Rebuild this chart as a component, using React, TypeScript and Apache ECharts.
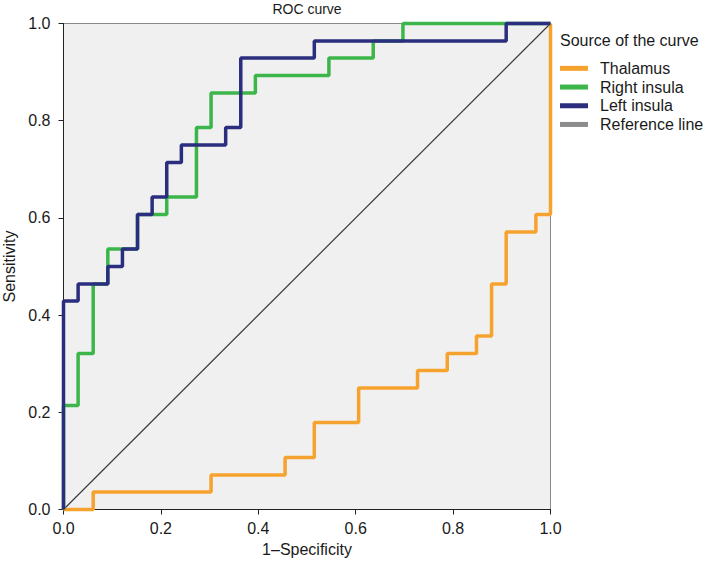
import React, { useEffect, useRef } from "react";
import * as echarts from "echarts";

// ROC points (1-Specificity, Sensitivity)
const thalamusFpr = [0, 0.061, 0.303, 0.455, 0.515, 0.606, 0.727, 0.788, 0.848, 0.879, 0.909, 0.97, 1, 1];
const thalamusTpr = [0, 0, 0.036, 0.071, 0.107, 0.179, 0.25, 0.286, 0.321, 0.357, 0.464, 0.571, 0.607, 1];

const rightInsulaFpr = [0, 0.03, 0.061, 0.091, 0.152, 0.212, 0.273, 0.303, 0.394, 0.545, 0.636, 0.697, 1];
const rightInsulaTpr = [0, 0.214, 0.321, 0.464, 0.536, 0.607, 0.643, 0.786, 0.857, 0.893, 0.929, 0.964, 1];

const leftInsulaFpr = [0, 0.03, 0.091, 0.121, 0.152, 0.182, 0.212, 0.242, 0.333, 0.364, 0.515, 0.909, 1];
const leftInsulaTpr = [0, 0.429, 0.464, 0.5, 0.536, 0.607, 0.643, 0.714, 0.75, 0.786, 0.929, 0.964, 1];

const referenceX = [0, 1];
const referenceY = [0, 1];

const seriesNames = ["Thalamus", "Right insula", "Left insula", "Reference line"];
const tickLabels = ["0.0", "0.2", "0.4", "0.6", "0.8", "1.0"];

const FONT = "'Liberation Sans', Arial, Helvetica, sans-serif";
const TEXT = "#1a1a1a";

const zip = (xs: number[], ys: number[]) => xs.map((x, i) => [x, ys[i]]);

export default function App() {
  const ref = useRef<HTMLDivElement>(null);

  useEffect(() => {
    if (!ref.current) return;
    const chart = echarts.init(ref.current, undefined, { renderer: "svg" });
    const fmt = (v: number) => tickLabels[Math.round(v * 5)] ?? v.toFixed(1);

    const option: any = {
      animation: false,
      textStyle: { fontFamily: FONT },
      grid: {
        left: 63.5,
        top: 23.5,
        width: 487,
        height: 486,
        containLabel: false,
        outerBoundsMode: "none",
        show: true,
        backgroundColor: "#f0f0f0",
        borderColor: "#8a8a8a",
        borderWidth: 1,
      },
      xAxis: {
        type: "value",
        min: 0,
        max: 1,
        interval: 0.2,
        name: "1\u2013Specificity",
        nameLocation: "middle",
        nameGap: 32,
        nameTextStyle: { fontSize: 16, color: TEXT, fontFamily: FONT },
        axisLine: { show: true, lineStyle: { color: "#222", width: 1 } },
        axisTick: { show: true, length: 5, lineStyle: { color: "#222" } },
        splitLine: { show: false },
        axisLabel: { formatter: fmt, fontSize: 16, color: TEXT, margin: 11, fontFamily: FONT },
      },
      yAxis: {
        type: "value",
        min: 0,
        max: 1,
        interval: 0.2,
        name: "Sensitivity",
        nameLocation: "middle",
        nameGap: 44,
        nameRotate: 90,
        nameTextStyle: { fontSize: 16, color: TEXT, fontFamily: FONT },
        axisLine: { show: true, lineStyle: { color: "#222", width: 1 } },
        axisTick: { show: true, length: 5, lineStyle: { color: "#222" } },
        splitLine: { show: false },
        axisLabel: { formatter: fmt, fontSize: 16, color: TEXT, margin: 13, fontFamily: FONT },
      },
      legend: {
        orient: "vertical",
        left: 560,
        top: 59,
        padding: 0,
        itemWidth: 28,
        itemHeight: 5,
        itemGap: 0,
        icon: "rect",
        selectedMode: false,
        textStyle: { fontSize: 16, color: TEXT, lineHeight: 18.7, padding: [0, 0, 0, 7], fontFamily: FONT },
        data: [
          { name: seriesNames[0], itemStyle: { color: "#f6a22e" } },
          { name: seriesNames[1], itemStyle: { color: "#3cb64a" } },
          { name: seriesNames[2], itemStyle: { color: "#2b2e7e" } },
          { name: seriesNames[3], itemStyle: { color: "#8c8c8c" } },
        ],
      },
      graphic: [
        {
          type: "text",
          x: 307,
          y: 9,
          style: {
            text: "ROC curve",
            fontSize: 14,
            fontFamily: FONT,
            fill: TEXT,
            align: "center",
            verticalAlign: "middle",
            textAlign: "center",
            textVerticalAlign: "middle",
          },
        },
        {
          type: "text",
          x: 560,
          y: 40,
          style: {
            text: "Source of the curve",
            fontSize: 16,
            fontFamily: FONT,
            fill: TEXT,
            align: "left",
            verticalAlign: "middle",
            textAlign: "left",
            textVerticalAlign: "middle",
          },
        },
      ],
      series: [
        {
          name: seriesNames[3],
          type: "line",
          data: zip(referenceX, referenceY),
          showSymbol: false,
          symbol: "none",
          clip: false,
          lineStyle: { color: "#3a3a3a", width: 1.2 },
          itemStyle: { color: "#8c8c8c" },
          z: 2,
        },
        {
          name: seriesNames[0],
          type: "line",
          step: "start",
          data: zip(thalamusFpr, thalamusTpr),
          showSymbol: false,
          symbol: "none",
          clip: false,
          lineStyle: { color: "#f6a22e", width: 3.5 },
          itemStyle: { color: "#f6a22e" },
          z: 3,
        },
        {
          name: seriesNames[1],
          type: "line",
          step: "start",
          data: zip(rightInsulaFpr, rightInsulaTpr),
          showSymbol: false,
          symbol: "none",
          clip: false,
          lineStyle: { color: "#3cb64a", width: 3.5 },
          itemStyle: { color: "#3cb64a" },
          z: 4,
        },
        {
          name: seriesNames[2],
          type: "line",
          step: "start",
          data: zip(leftInsulaFpr, leftInsulaTpr),
          showSymbol: false,
          symbol: "none",
          clip: false,
          lineStyle: { color: "#2b2e7e", width: 3.5 },
          itemStyle: { color: "#2b2e7e" },
          z: 5,
        },
      ],
    };

    chart.setOption(option);
    return () => chart.dispose();
  }, []);

  return (
    <div
      ref={ref}
      style={{ position: "fixed", left: 0, top: 0, width: 708, height: 564, background: "#ffffff" }}
    />
  );
}
